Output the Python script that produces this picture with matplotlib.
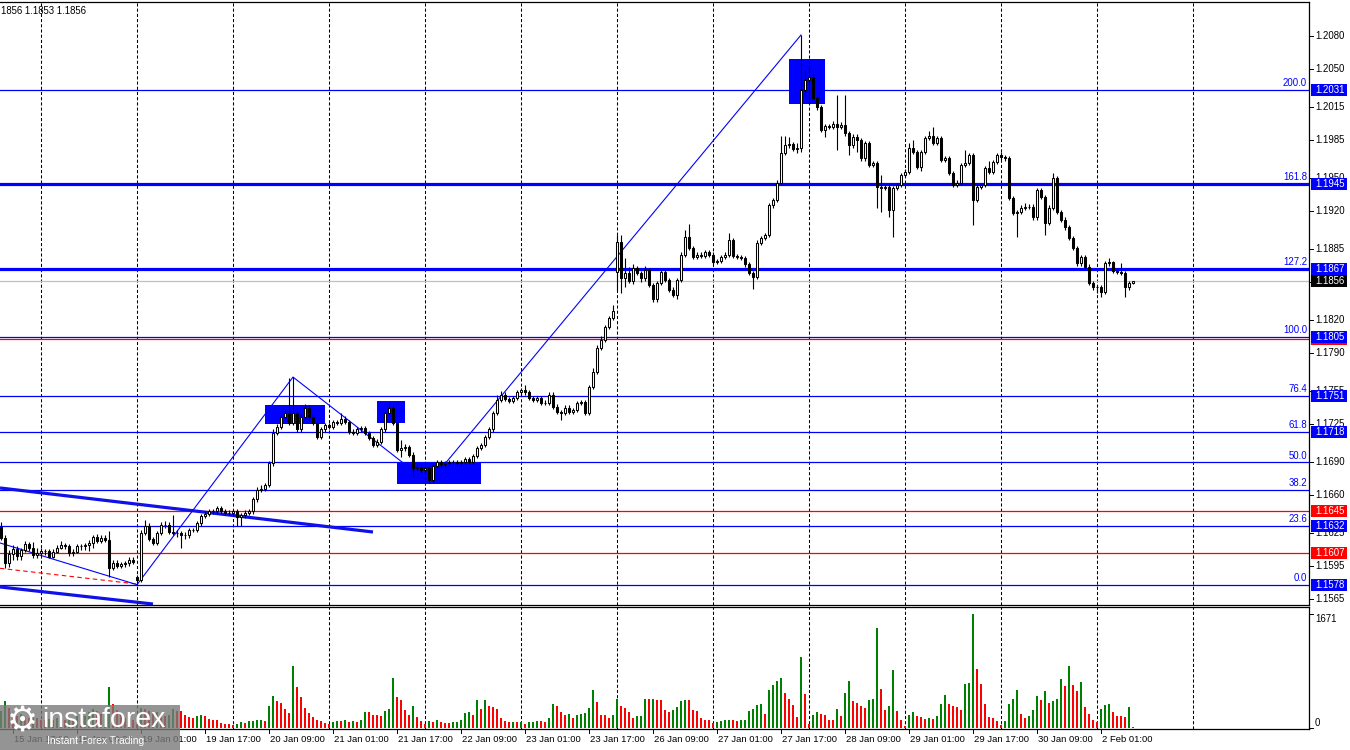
import numpy as np
import matplotlib.pyplot as plt
from matplotlib.patches import Rectangle
from matplotlib.transforms import blended_transform_factory

plt.rcParams['font.family'] = ['Liberation Sans', 'DejaVu Sans']

# EURUSD H1, bar 0 = 15 Jan 14:00, last bar = 2 Feb 09:00
# quotes in pips above 1.1500
BASE = 1.1500
open_pips = [
    131, 121, 98, 106, 111, 104, 110, 115, 112, 105,
    107, 109, 109, 103, 108, 112, 114, 113, 107, 108,
    113, 113, 114, 116, 122, 118, 121, 119, 93, 98,
    95, 97, 98, 101, 85, 82, 125, 132, 120, 116,
    125, 133, 133, 126, 125, 125, 123, 123, 128, 128,
    134, 141, 143, 145, 145, 148, 145, 144, 144, 145,
    140, 142, 144, 145, 156, 165, 166, 169, 189, 217,
    222, 231, 235, 226, 235, 220, 231, 240, 231, 226,
    213, 220, 224, 222, 227, 226, 230, 227, 218, 217,
    220, 221, 217, 212, 206, 209, 220, 235, 240, 226,
    201, 203, 204, 197, 185, 186, 183, 185, 174, 187,
    190, 188, 189, 190, 190, 189, 190, 193, 190, 196,
    203, 206, 213, 220, 235, 247, 252, 248, 246, 249,
    254, 256, 254, 249, 247, 249, 244, 244, 252, 241,
    236, 235, 240, 236, 238, 244, 245, 235, 259, 273,
    295, 302, 314, 322, 364, 392, 359, 363, 356, 368,
    363, 359, 366, 352, 339, 354, 364, 357, 348, 343,
    357, 380, 396, 386, 378, 380, 379, 382, 380, 373,
    374, 378, 380, 393, 379, 378, 377, 371, 363, 360,
    391, 395, 398, 425, 430, 446, 473, 480, 481, 477,
    478, 531, 540, 543, 523, 515, 494, 498, 497, 500,
    497, 499, 491, 480, 488, 485, 468, 482, 462, 464,
    442, 441, 442, 421, 441, 444, 453, 456, 478, 474,
    460, 474, 487, 489, 482, 487, 467, 468, 455, 444,
    446, 462, 464, 471, 430, 442, 444, 459, 456, 465,
    471, 469, 468, 432, 418, 419, 423, 424, 424, 414,
    439, 433, 409, 423, 450, 419, 412, 405, 395, 386,
    372, 378, 369, 354, 350, 350, 346, 372, 373, 365,
    364, 363, 350, 354,
]
close_pips = [
    121, 98, 106, 111, 104, 110, 115, 112, 105, 107,
    109, 109, 103, 108, 112, 114, 113, 107, 108, 113,
    113, 114, 116, 122, 118, 121, 119, 93, 98, 95,
    97, 98, 101, 99, 82, 125, 132, 120, 116, 125,
    133, 133, 126, 125, 125, 123, 123, 128, 128, 134,
    141, 143, 145, 145, 148, 145, 144, 144, 145, 140,
    142, 144, 145, 156, 165, 166, 169, 189, 217, 222,
    231, 235, 226, 235, 220, 231, 240, 231, 226, 213,
    220, 224, 222, 227, 226, 230, 227, 218, 217, 220,
    221, 217, 212, 206, 209, 220, 235, 240, 226, 201,
    203, 204, 197, 185, 186, 183, 185, 174, 187, 190,
    188, 189, 190, 190, 189, 190, 193, 190, 196, 203,
    206, 213, 220, 235, 247, 252, 248, 246, 249, 254,
    256, 254, 249, 247, 249, 244, 244, 252, 241, 236,
    235, 240, 236, 238, 244, 245, 235, 259, 273, 295,
    302, 314, 322, 328, 392, 359, 363, 356, 368, 363,
    359, 366, 352, 339, 354, 364, 357, 348, 343, 357,
    380, 396, 386, 378, 380, 379, 382, 380, 373, 374,
    378, 380, 393, 379, 378, 377, 371, 363, 360, 391,
    395, 398, 425, 430, 446, 473, 480, 481, 477, 478,
    531, 540, 543, 523, 515, 494, 498, 497, 500, 497,
    499, 491, 480, 488, 485, 468, 482, 462, 464, 442,
    441, 442, 421, 441, 444, 453, 456, 478, 474, 460,
    474, 487, 489, 482, 487, 467, 468, 455, 444, 446,
    462, 464, 471, 430, 442, 444, 459, 456, 465, 471,
    469, 468, 432, 418, 419, 423, 424, 424, 414, 439,
    433, 409, 423, 450, 419, 412, 405, 395, 386, 372,
    378, 369, 354, 350, 350, 346, 372, 373, 365, 364,
    363, 350, 354, 356,
]
high_pips = [
    135, 123, 110, 114, 113, 112, 118, 117, 117, 112,
    112, 111, 111, 111, 114, 118, 116, 115, 111, 115,
    115, 116, 119, 123, 124, 123, 123, 127, 101, 101,
    99, 100, 103, 103, 87, 128, 137, 134, 122, 127,
    135, 136, 135, 142, 128, 127, 126, 130, 130, 136,
    143, 145, 147, 147, 150, 150, 147, 146, 147, 147,
    144, 146, 147, 158, 167, 169, 171, 191, 220, 225,
    233, 238, 267, 268, 237, 234, 243, 242, 233, 228,
    222, 226, 226, 229, 229, 235, 232, 229, 220, 222,
    223, 223, 219, 214, 211, 222, 237, 244, 242, 228,
    210, 207, 206, 199, 189, 188, 187, 187, 189, 192,
    192, 191, 192, 192, 192, 192, 195, 195, 198, 205,
    208, 215, 222, 237, 252, 255, 254, 250, 251, 256,
    258, 261, 256, 251, 251, 251, 247, 254, 254, 243,
    238, 242, 242, 240, 246, 247, 247, 261, 276, 297,
    306, 316, 324, 334, 398, 398, 377, 369, 371, 370,
    365, 370, 368, 354, 356, 366, 366, 359, 350, 359,
    382, 403, 408, 388, 382, 382, 384, 384, 382, 376,
    380, 382, 400, 395, 381, 380, 379, 373, 365, 393,
    397, 400, 427, 432, 448, 489, 489, 488, 483, 482,
    581, 549, 551, 546, 525, 517, 500, 500, 502, 526,
    501, 526, 493, 490, 490, 487, 484, 484, 466, 466,
    453, 444, 444, 443, 446, 455, 458, 482, 485, 476,
    476, 489, 493, 497, 489, 489, 470, 470, 457, 448,
    464, 476, 473, 473, 444, 446, 461, 466, 467, 473,
    474, 471, 470, 434, 421, 425, 427, 426, 426, 441,
    441, 435, 425, 455, 452, 421, 414, 407, 397, 388,
    380, 380, 371, 356, 352, 352, 374, 377, 374, 367,
    372, 365, 356, 356,
]
low_pips = [
    119, 93, 94, 101, 101, 101, 108, 109, 102, 102,
    104, 105, 102, 102, 107, 111, 111, 104, 104, 107,
    110, 110, 109, 112, 116, 116, 117, 85, 91, 93,
    93, 94, 95, 97, 78, 80, 123, 118, 114, 114,
    123, 130, 124, 123, 122, 112, 120, 121, 126, 126,
    132, 139, 141, 143, 143, 143, 142, 142, 142, 132,
    132, 139, 142, 143, 154, 163, 164, 167, 187, 215,
    220, 229, 224, 224, 218, 218, 229, 229, 224, 211,
    211, 218, 220, 220, 224, 224, 225, 216, 215, 215,
    218, 215, 210, 204, 204, 207, 218, 233, 224, 199,
    195, 200, 195, 177, 182, 180, 180, 171, 172, 185,
    186, 186, 187, 188, 187, 187, 188, 188, 188, 194,
    201, 204, 211, 218, 233, 245, 246, 244, 244, 247,
    252, 252, 247, 245, 245, 242, 242, 242, 239, 234,
    229, 233, 234, 234, 236, 242, 233, 233, 257, 271,
    293, 300, 312, 320, 348, 345, 350, 354, 353, 361,
    355, 356, 350, 337, 337, 352, 355, 346, 341, 339,
    355, 378, 384, 376, 376, 377, 377, 378, 371, 371,
    372, 376, 378, 377, 376, 375, 369, 361, 349, 358,
    389, 393, 396, 423, 428, 444, 471, 478, 475, 473,
    474, 523, 523, 522, 512, 492, 488, 495, 495, 476,
    495, 489, 471, 478, 474, 466, 466, 460, 460, 423,
    419, 439, 414, 396, 439, 442, 451, 454, 472, 458,
    457, 472, 485, 480, 480, 465, 465, 453, 442, 442,
    444, 460, 462, 407, 428, 440, 442, 454, 454, 463,
    467, 466, 430, 416, 396, 417, 421, 422, 412, 412,
    431, 398, 407, 421, 417, 410, 403, 393, 384, 370,
    370, 367, 352, 348, 345, 341, 344, 370, 363, 362,
    361, 341, 348, 353,
]
volumes = [
    250, 391, 300, 220, 180, 200, 160, 150, 170, 140,
    120, 110, 130, 120, 140, 150, 110, 160, 130, 180,
    150, 170, 230, 280, 250, 210, 230, 601, 350, 260,
    200, 150, 170, 120, 60, 290, 279, 250, 220, 230,
    200, 170, 190, 279, 244, 244, 195, 161, 147, 171,
    195, 171, 132, 122, 120, 73, 64, 62, 44, 64,
    93, 73, 100, 105, 110, 115, 107, 327, 474, 391,
    366, 279, 220, 914, 601, 459, 293, 220, 161, 122,
    107, 73, 54, 83, 107, 105, 112, 93, 98, 93,
    112, 235, 233, 191, 188, 181, 244, 283, 733, 454,
    415, 269, 195, 327, 161, 98, 64, 98, 93, 112,
    83, 73, 70, 83, 93, 112, 220, 239, 195, 415,
    279, 415, 327, 308, 279, 147, 98, 83, 88, 86,
    93, 64, 83, 93, 98, 96, 94, 142, 357, 327,
    239, 195, 210, 147, 195, 200, 220, 293, 552, 376,
    195, 193, 142, 195, 430, 318, 293, 230, 142, 171,
    181, 430, 428, 430, 415, 413, 269, 230, 269, 308,
    391, 415, 406, 259, 244, 147, 122, 112, 73, 93,
    98, 117, 122, 112, 98, 112, 122, 244, 279, 342,
    357, 210, 562, 635, 684, 733, 513, 430, 342, 156,
    1041, 503, 64, 195, 235, 205, 191, 122, 112, 279,
    171, 513, 684, 391, 366, 327, 293, 415, 425, 1466,
    572, 259, 327, 855, 244, 112, 34, 195, 235, 181,
    161, 132, 147, 132, 171, 357, 489, 357, 327, 308,
    269, 650, 655, 1671, 870, 650, 357, 156, 150, 107,
    49, 107, 357, 430, 552, 210, 147, 181, 259, 474,
    415, 537, 366, 391, 430, 723, 611, 914, 635, 537,
    669, 303, 210, 112, 93, 283, 342, 357, 239, 175,
    171, 168, 303, 20,
]

fib_levels = ['0.0', '23.6', '38.2', '50.0', '61.8', '76.4', '100.0', '127.2', '161.8', '200.0']
fib_prices = [1.1578, 1.1632, 1.1665, 1.1690, 1.1718, 1.1751, 1.1805, 1.1867, 1.1945, 1.2031]
fib_boxed = [1.1578, 1.1632, 1.1718, 1.1751, 1.1805, 1.1867, 1.1945, 1.2031]
red_levels = [1.1607, 1.1645, 1.1803]
last_price = 1.1856
axis_ticks = [1.2080, 1.2050, 1.2015, 1.1985, 1.1950, 1.1920, 1.1885, 1.1855, 1.1820,
              1.1790, 1.1755, 1.1725, 1.1690, 1.1660, 1.1625, 1.1595, 1.1565]
time_labels = ['15 Jan 17:00', '16 Jan 09:00', '19 Jan 01:00', '19 Jan 17:00', '20 Jan 09:00',
               '21 Jan 01:00', '21 Jan 17:00', '22 Jan 09:00', '23 Jan 01:00', '23 Jan 17:00',
               '26 Jan 09:00', '27 Jan 01:00', '27 Jan 17:00', '28 Jan 09:00', '29 Jan 01:00',
               '29 Jan 17:00', '30 Jan 09:00', '2 Feb 01:00']
time_label_bars = [3, 19, 35, 51, 67, 83, 99, 115, 131, 147, 163, 179, 195, 211, 227, 243, 259, 275]
day_start_bars = [10, 34, 58, 82, 106, 130, 154, 178, 202, 226, 250, 274, 298]
# blue zones: bar from, bar to, price low, price high
zones = [(66, 81, 1.1725, 1.1742), (94, 101, 1.1726, 1.1746),
         (99, 120, 1.1670, 1.1689), (197, 206, 1.2018, 1.2059)]
zigzag_bars = [34, 73, 107, 200]
channel_top = [(-0.25, 1.16665), (93, 1.16262)]
channel_bottom = [(-0.25, 1.15759), (38, 1.15603)]
red_trend = [(-0.25, 1.1593), (34, 1.15786)]
zigzag_start = (-1.0, 1.1617)

o = BASE + np.array(open_pips) / 1e4
c = BASE + np.array(close_pips) / 1e4
h = BASE + np.array(high_pips) / 1e4
l = BASE + np.array(low_pips) / 1e4
vol = np.array(volumes)
x = np.arange(len(c))

BLUE = '#0000ff'
RED = '#ff0000'
W, H = 1350, 750
XR = 1309  # right edge of chart area, px
fig = plt.figure(figsize=(W / 100, H / 100), dpi=100)


def rect(x0, y0, x1, y1):
    return [x0 / W, 1 - y1 / H, (x1 - x0) / W, (y1 - y0) / H]


ax = fig.add_axes(rect(0, 2, XR, 605))
axv = fig.add_axes(rect(0, 607, XR, 729))
YMIN, YMAX = 1.15594, 1.21112
ppx = (YMAX - YMIN) / 603
for a in (ax, axv):
    a.set_xlim(-0.25, 327)
    a.set_xticks([])
    a.set_yticks([])
    a.spines['left'].set_visible(False)
    for s in ('top', 'right', 'bottom'):
        a.spines[s].set_linewidth(0.9)
    for d in day_start_bars:
        a.axvline(d, color='black', lw=0.75, ls=(0, (3, 2)), zorder=1.5)
ax.set_ylim(YMIN, YMAX)
axv.set_ylim(-14.66, 1774)

# zones
for b0, b1, p0, p1 in zones:
    ax.add_patch(Rectangle((b0, p0), b1 - b0, p1 - p0, facecolor=BLUE, edgecolor='none', zorder=1))

# levels
for lev, p in zip(fib_levels, fib_prices):
    lw = 2.3 if lev in ('127.2', '161.8') else 0.9
    ax.axhline(p, color=BLUE, lw=lw, zorder=2)
for p in red_levels:
    ax.axhline(p, color=RED, lw=0.9, zorder=2)
ax.axhline(last_price, color='#c0c0c0', lw=0.9, zorder=2)

# trend lines
for seg in (channel_top, channel_bottom):
    ax.plot([seg[0][0], seg[1][0]], [seg[0][1], seg[1][1]], color='#1010e8', lw=2.3, zorder=2.5,
            solid_capstyle='butt')
ax.plot([red_trend[0][0], red_trend[1][0]], [red_trend[0][1], red_trend[1][1]],
        color=RED, lw=0.8, ls=(0, (4, 3)), zorder=2.5)
zx = [zigzag_start[0]]
zy = [zigzag_start[1]]
for k, b in enumerate(zigzag_bars):
    zx.append(b)
    zy.append(l[b] if k % 2 == 0 else h[b])
ax.plot(zx, zy, color=BLUE, lw=0.8, zorder=2.6)

# candles
up = c >= o
ax.vlines(x, l, h, color='black', lw=0.8, zorder=4)
ax.bar(x, np.abs(c - o), bottom=np.minimum(o, c), width=0.55,
       color=np.where(up, 'white', 'black'), edgecolor='black', linewidth=0.75, zorder=5)

# volumes, green when higher than the previous bar
vcol = ['#008000'] + ['#008000' if vol[i] > vol[i - 1] else RED for i in range(1, len(vol))]
axv.bar(x, vol, width=0.7, color=vcol, zorder=3)

# right price scale
ty = blended_transform_factory(ax.transAxes, ax.transData)
fs = 6.9
for p in axis_ticks:
    ax.plot([1.0, 1313 / XR], [p, p], transform=ty, color='black', lw=0.7, clip_on=False)
    ax.text(1315 / XR, p, f'{p:.4f}', transform=ty, ha='left', va='center', fontsize=fs,
            color='black', clip_on=False, zorder=6)


def price_box(p, face, z):
    ax.add_patch(Rectangle((1311 / XR, p - 6 * ppx), 36 / XR, 12 * ppx, transform=ty,
                           facecolor=face, edgecolor='none', clip_on=False, zorder=z))
    ax.text(1315 / XR, p, f'{p:.4f}', transform=ty, ha='left', va='center', fontsize=fs,
            color='white', clip_on=False, zorder=z + 0.1)


for p in red_levels:
    price_box(p, RED, 7)
for p in fib_boxed:
    price_box(p, BLUE, 8)
price_box(last_price, 'black', 8)

for lev, p in zip(fib_levels, fib_prices):
    ax.text(1307 / XR, p + 1.5 * ppx, lev, transform=ty, ha='right', va='bottom',
            fontsize=fs, color=BLUE, zorder=6)

# volume scale
tv = blended_transform_factory(axv.transAxes, axv.transData)
axv.text(1315 / XR, 1671, '1671', transform=tv, ha='left', va='top', fontsize=fs, clip_on=False)
axv.text(1315 / XR, 0, '0', transform=tv, ha='left', va='bottom', fontsize=fs, clip_on=False)
for v in (1671, 0):
    axv.plot([1.0, 1313 / XR], [v, v], transform=tv, color='black', lw=0.7, clip_on=False)

# overlay in pixel units
ov = fig.add_axes([0, 0, 1, 1], zorder=20)
ov.set_xlim(0, W)
ov.set_ylim(H, 0)
ov.axis('off')
tx = blended_transform_factory(axv.transData, ov.transData)
for lbl, b in zip(time_labels, time_label_bars):
    ov.plot([b, b], [729, 733], transform=tx, color='black', lw=0.7)
    ov.text(b + 0.3, 739, lbl, transform=tx, ha='left', va='center', fontsize=6.8)

ov.text(1, 11, '1856 1.1853 1.1856', ha='left', va='center', fontsize=fs, color='black')

# watermark
ov.add_patch(Rectangle((0, 705), 180, 45, facecolor='#7a7a7a', alpha=0.8, edgecolor='none', zorder=30))
ov.text(22, 722, '\u2699', ha='center', va='center', fontsize=25, color='white',
        family='DejaVu Sans', zorder=31)
ov.text(42, 720, 'instaforex', ha='left', va='center', fontsize=20.5, color='white', zorder=31)
ov.text(47, 741, 'Instant Forex Trading', ha='left', va='center', fontsize=7.4, color='white', zorder=31)

fig.savefig('out.png', dpi=100)
